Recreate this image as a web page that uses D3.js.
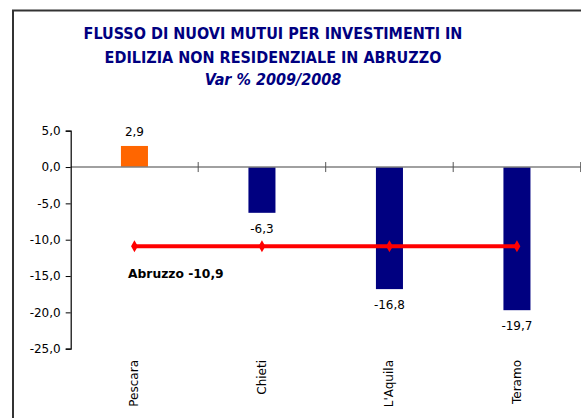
<!DOCTYPE html>
<html>
<head>
<meta charset="utf-8">
<script src="https://cdnjs.cloudflare.com/ajax/libs/d3/7.8.5/d3.min.js"></script>
<style>
  body { margin: 0; background: #fff; }
  svg { display: block; }
</style>
</head>
<body>
<svg class="Chart__SVG" width="581" height="418"></svg>
<script>
// data
var provinces = ["Pescara", "Chieti", "L'Aquila", "Teramo"];
var varPct = [2.9, -6.3, -16.8, -19.7];
var labels = ["2,9", "-6,3", "-16,8", "-19,7"];
var abruzzo = -10.9;
var abruzzoLabel = "Abruzzo -10,9";
var yTicks = [5, 0, -5, -10, -15, -20, -25];
var titleLines = ["FLUSSO DI NUOVI MUTUI PER INVESTIMENTI IN", "EDILIZIA NON RESIDENZIALE IN ABRUZZO"];
var subtitle = "Var % 2009/2008";

var font = "'DejaVu Sans', sans-serif";
var navy = "#000080";

const svg = d3.select(".Chart__SVG");

// frame
svg.append("path")
    .attr("d", "M13,430 V10.5 H600")
    .attr("fill", "none")
    .attr("stroke", "#333")
    .attr("stroke-width", 2);

// title
const title = svg.append("g").attr("font-family", "'DejaVu Sans Condensed', 'DejaVu Sans', sans-serif")
    .attr("font-weight", "bold")
    .attr("fill", navy)
    .attr("text-anchor", "middle");
titleLines.forEach((t, i) => {
    title.append("text")
        .attr("x", 273)
        .attr("y", 39 + i * 24)
        .attr("font-size", 16)
        .text(t);
});
title.append("text")
    .attr("x", 273)
    .attr("y", 85)
    .attr("font-size", 16)
    .attr("font-style", "italic")
    .text(subtitle);

// scales
var x = d3.scaleBand()
    .domain(provinces)
    .range([70.7, 580.7])
    .padding(0);

var y = d3.scaleLinear()
    .domain([-25, 5])
    .range([348.7, 130.7]);

var barW = x.bandwidth() * 0.212;

// bars
svg.append("g").selectAll("rect")
    .data(provinces)
    .enter()
    .append("rect")
    .attr("x", d => x(d) + x.bandwidth() / 2 - barW / 2)
    .attr("y", (d, i) => y(Math.max(0, varPct[i])))
    .attr("width", barW)
    .attr("height", (d, i) => Math.abs(y(varPct[i]) - y(0)))
    .attr("fill", (d, i) => varPct[i] >= 0 ? "#ff6600" : navy);

// category axis at zero
const xAxis = svg.append("g")
    .attr("transform", `translate(0,${y(0)})`);
xAxis.append("line")
    .attr("x1", x.range()[0]).attr("x2", x.range()[1])
    .attr("stroke", "#808080").attr("stroke-width", 1.5);
xAxis.selectAll(".ctick")
    .data(provinces.map(d => x(d) + x.bandwidth()))
    .enter()
    .append("line")
    .attr("x1", d => d).attr("x2", d => d)
    .attr("y1", -5).attr("y2", 5)
    .attr("stroke", "#555").attr("stroke-width", 1);

// y axis
const yAxis = svg.append("g")
    .attr("transform", `translate(${x.range()[0]},0)`)
    .call(d3.axisLeft(y).tickValues(yTicks).tickSize(5).tickPadding(5)
        .tickFormat(d => d3.format(".1f")(d).replace(".", ",").replace("−", "-")));
yAxis.select(".domain").attr("stroke", "#000").attr("stroke-width", 1.2);
yAxis.selectAll(".tick line").attr("stroke", "#000");
yAxis.selectAll("text")
    .attr("font-family", font)
    .attr("font-size", 12)
    .attr("fill", "#000");

// category labels, rotated
svg.append("g").selectAll("text")
    .data(provinces)
    .enter()
    .append("text")
    .attr("transform", d => `translate(${x(d) + x.bandwidth() / 2 + 4},360) rotate(-90)`)
    .attr("text-anchor", "end")
    .attr("font-family", font)
    .attr("font-size", 12)
    .text(d => d);

// bar value labels
svg.append("g").selectAll("text")
    .data(provinces)
    .enter()
    .append("text")
    .attr("x", d => x(d) + x.bandwidth() / 2)
    .attr("y", (d, i) => varPct[i] >= 0 ? y(varPct[i]) - 10 : y(varPct[i]) + 20)
    .attr("text-anchor", "middle")
    .attr("font-family", font)
    .attr("font-size", 12)
    .text((d, i) => labels[i]);

// regional average line
var centers = provinces.map(d => x(d) + x.bandwidth() / 2);
svg.append("line")
    .attr("x1", centers[0]).attr("x2", centers[centers.length - 1])
    .attr("y1", y(abruzzo)).attr("y2", y(abruzzo))
    .attr("stroke", "#ff0000")
    .attr("stroke-width", 4);
svg.append("g").selectAll("path")
    .data(centers)
    .enter()
    .append("path")
    .attr("d", d3.symbol(d3.symbolDiamond, 40))
    .attr("transform", d => `translate(${d},${y(abruzzo)})`)
    .attr("fill", "#ff0000");

svg.append("text")
    .attr("x", 128)
    .attr("y", y(abruzzo) + 32)
    .attr("font-family", font)
    .attr("font-weight", "bold")
    .attr("font-size", 12.3)
    .text(abruzzoLabel);
</script>
</body>
</html>
